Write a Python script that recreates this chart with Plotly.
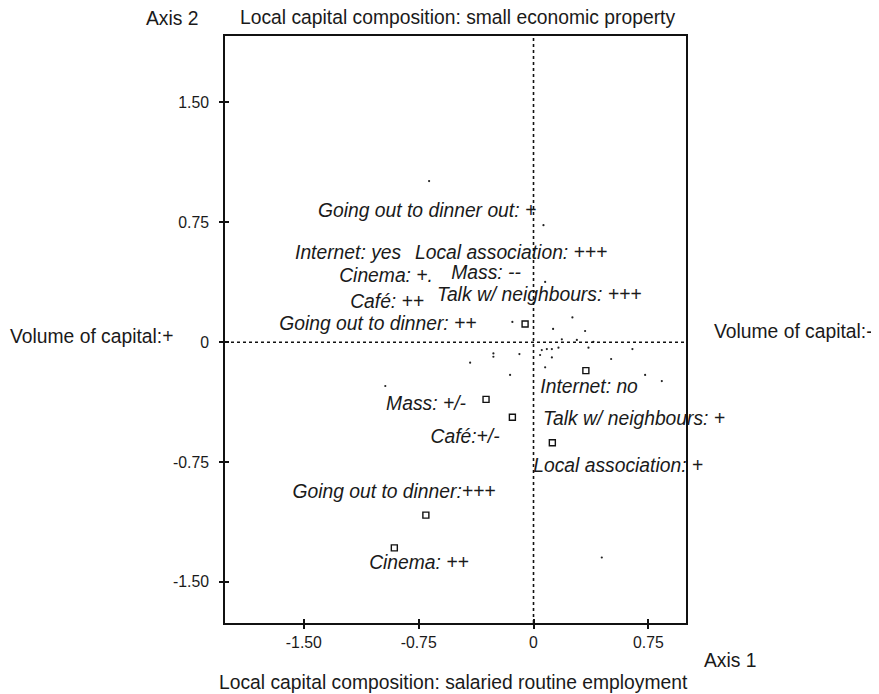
import plotly.graph_objects as go

# ---- data ----
square_x = [-0.055, 0.342, -0.310, -0.138, 0.123, -0.703, -0.909]
square_y = [0.114, -0.178, -0.358, -0.470, -0.629, -1.082, -1.287]

dot_x = [-0.682, 0.065, 0.076, -0.138, 0.128, 0.254, 0.337, 0.185, 0.283, 0.391,
         -0.262, -0.262, -0.092, 0.054, 0.087, 0.120, 0.163, 0.043, 0.120, 0.076,
         0.359, 0.507, 0.646, -0.153, 0.729, 0.838, -0.414, -0.968, 0.446]
dot_y = [1.008, 0.732, 0.377, 0.127, 0.083, 0.155, 0.070, 0.018, 0.014, 0.003,
         -0.070, -0.091, -0.074, -0.049, -0.043, -0.043, -0.034, -0.080, -0.095, -0.157,
         -0.034, -0.105, -0.043, -0.205, -0.205, -0.243, -0.128, -0.274, -1.347]

label_text = ["Going out to dinner out: +", "Internet: yes", "Local association: +++",
              "Cinema: +.", "Mass: --", "Café: ++", "Talk w/ neighbours: +++",
              "Going out to dinner: ++", "Internet: no", "Mass: +/-",
              "Talk w/ neighbours: +", "Café:+/-", "Local association: +",
              "Going out to dinner:+++", "Cinema: ++"]
label_x = [-0.695, -1.211, -0.146, -0.963, -0.310, -0.956, 0.037, -1.016, 0.363,
           -0.702, 0.657, -0.447, 0.553, -0.911, -0.748]
label_y = [0.815, 0.552, 0.552, 0.408, 0.428, 0.245, 0.285, 0.108, -0.287,
           -0.393, -0.487, -0.600, -0.782, -0.944, -1.389]

x_ticks = [-1.5, -0.75, 0, 0.75]
x_tick_text = ["-1.50", "-0.75", "0", "0.75"]
y_ticks = [-1.5, -0.75, 0, 0.75, 1.5]
y_tick_text = ["-1.50", "-0.75", "0", "0.75", "1.50"]

X_RANGE = [-2.015, 0.996]
Y_RANGE = [-1.757, 1.916]

FONT = "Liberation Sans, Arial, sans-serif"
TXT = "#1a1a1a"

fig = go.Figure()

fig.add_trace(go.Scatter(
    x=dot_x, y=dot_y, mode="markers",
    marker=dict(symbol="circle", size=2.2, color="#222"),
    showlegend=False, hoverinfo="skip"))

fig.add_trace(go.Scatter(
    x=square_x, y=square_y, mode="markers",
    marker=dict(symbol="square-open", size=6, color="#111", line=dict(width=1.4)),
    showlegend=False, hoverinfo="skip"))

fig.add_trace(go.Scatter(
    x=label_x, y=label_y, mode="text", text=label_text,
    textposition="middle center", cliponaxis=False,
    textfont=dict(family=FONT, size=19.3, color=TXT, style="italic"),
    showlegend=False, hoverinfo="skip"))

# overlay axes for the inner half of the crossing ticks
fig.add_trace(go.Scatter(x=[None], y=[None], xaxis="x2", yaxis="y2",
                         showlegend=False, hoverinfo="skip"))

axis_common = dict(showgrid=False, zeroline=False, showline=True, mirror=True,
                   linecolor="#111", linewidth=1.6, ticks="outside", ticklen=4,
                   tickwidth=1.5, tickcolor="#111",
                   tickfont=dict(family=FONT, size=15.8, color=TXT))

# the page body has an 8px margin, so the figure is drawn 8px smaller
fig.update_layout(
    width=871, height=686,
    margin=dict(l=217, r=193, t=28, b=71, pad=0),
    paper_bgcolor="white", plot_bgcolor="white",
    xaxis=dict(range=X_RANGE, tickvals=x_ticks, ticktext=x_tick_text,
               ticklabelstandoff=0, **axis_common),
    yaxis=dict(range=Y_RANGE, tickvals=y_ticks, ticktext=y_tick_text,
               ticklabelstandoff=7, **axis_common),
    xaxis2=dict(range=X_RANGE, overlaying="x", anchor="y", side="bottom",
                tickvals=x_ticks, ticks="inside", ticklen=4, tickwidth=1.5,
                tickcolor="#111", showticklabels=False, showgrid=False,
                zeroline=False, showline=False),
    yaxis2=dict(range=Y_RANGE, overlaying="y", anchor="x", side="left",
                tickvals=y_ticks, ticks="inside", ticklen=4, tickwidth=1.5,
                tickcolor="#111", showticklabels=False, showgrid=False,
                zeroline=False, showline=False),
    showlegend=False,
)

# dashed reference lines through the origin
fig.add_shape(type="line", xref="x", yref="paper", x0=0, x1=0, y0=0, y1=1,
              line=dict(color="#111", width=1.6, dash="3px,3px"))
fig.add_shape(type="line", xref="paper", yref="y", x0=0, x1=1, y0=0, y1=0,
              line=dict(color="#111", width=1.6, dash="3px,3px"))

outer = [
    ("Axis 2", -0.1128, 1.0302),
    ("Local capital composition: small economic property", 0.5043, 1.0307),
    ("Volume of capital:+", -0.2892, 0.4873),
    ("Volume of capital:-", 1.2335, 0.497),
    ("Axis 1", 1.0976, -0.0639),
    ("Local capital composition: salaried routine employment", 0.4967, -0.1014),
]
for t, ax, ay in outer:
    fig.add_annotation(text=t, xref="paper", yref="paper", x=ax, y=ay,
                       xanchor="center", yanchor="middle", showarrow=False,
                       font=dict(family=FONT, size=19.3, color=TXT))

fig.write_html("out.html")
